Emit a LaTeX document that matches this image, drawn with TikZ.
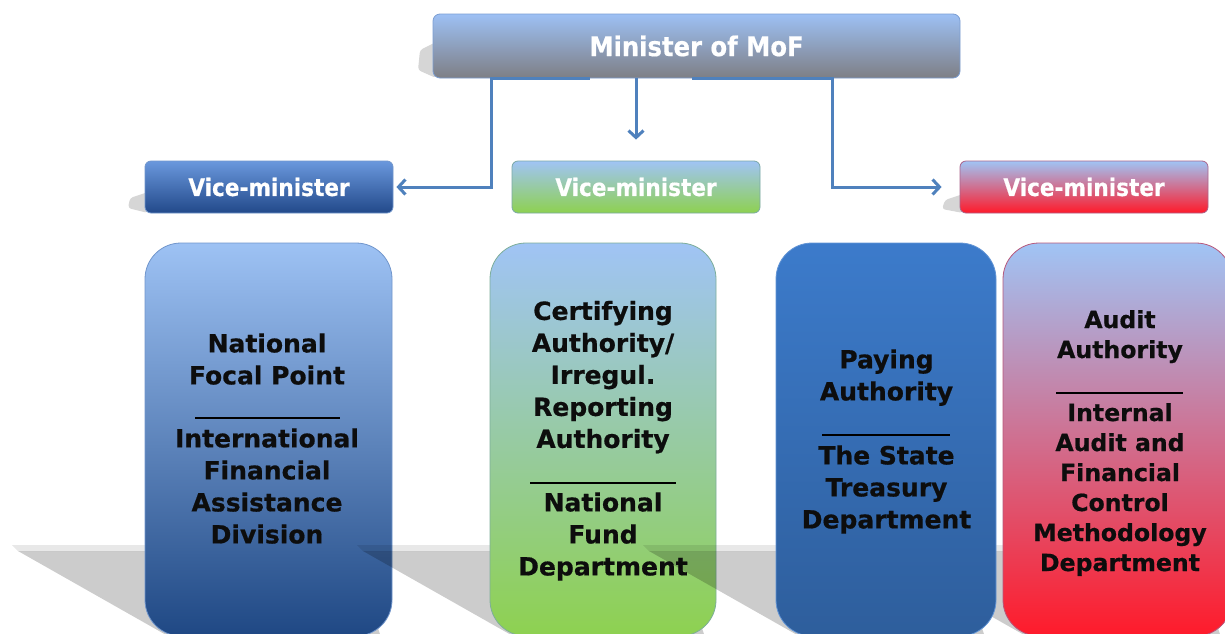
\documentclass[tikz,border=0pt]{standalone}
\usepackage{fontspec}
\setmainfont{DejaVu Sans}[BoldFeatures={FakeBold=0.6}]
\newfontfamily\headfont{DejaVu Sans Condensed}[BoldFeatures={FakeBold=0.5}]
\usetikzlibrary{arrows.meta,calc}

% palette
\definecolor{mofTop}{HTML}{9DC0F4}
\definecolor{mofBot}{HTML}{7E7F85}
\definecolor{mofLine}{HTML}{7C9ED2}
\definecolor{blueTop}{HTML}{6A98DD}
\definecolor{blueBot}{HTML}{22498A}
\definecolor{paleTop}{HTML}{A0C4F5}
\definecolor{greenBot}{HTML}{8ED150}
\definecolor{redBot}{HTML}{FF1A2A}
\definecolor{pinkMid}{HTML}{DCA8D2}
\definecolor{navyBot}{HTML}{1F4884}
\definecolor{treasTop}{HTML}{3C7BCB}
\definecolor{treasBot}{HTML}{2E5E9C}
\definecolor{edgeBlue}{HTML}{7196CC}
\definecolor{connBlue}{HTML}{4F81BD}

\newcommand\cellstack[1]{\begin{tabular}{@{}c@{}}#1\end{tabular}}
% floor shadow of a unit box with left edge #1 and right edge #2
\newcommand\floorshade[2]{%
  \fill[black, opacity=0.09] ({#1-133},545) -- ({#2-40},545) -- ({#2-40},551) -- ({#1-127},551) -- cycle;
  \fill[black, opacity=0.2] ({#1-127},551) -- ({#2-40},551) -- ({#2-10},640) -- ({#1+30},640) -- cycle;}

\begin{document}
\begin{tikzpicture}[x=1pt,y=-1pt,
  topbox/.style={rectangle, rounded corners=7pt, minimum width=527pt,
    minimum height=64pt, inner sep=0pt, draw=mofLine, line width=0.8pt,
    top color=mofTop, bottom color=mofBot, text=white,
    font=\headfont\bfseries\fontsize{27}{30}\selectfont},
  vicebox/.style={rectangle, rounded corners=6pt, minimum width=248pt,
    minimum height=52pt, inner sep=0pt, draw=edgeBlue, line width=0.8pt,
    text=white, font=\headfont\bfseries\fontsize{24}{28}\selectfont},
  unitbox/.style={rectangle, rounded corners=36pt, minimum height=393pt,
    inner sep=0pt, draw=edgeBlue, line width=0.8pt},
  unittext/.style={inner sep=0pt, text=black!95,
    font=\bfseries\fontsize{25}{32}\selectfont},
  smalltext/.style={unittext, font=\bfseries\fontsize{23.6}{30}\selectfont},
  rulesep/.style={line width=1.7pt, black},
  conn/.style={draw=connBlue, line width=3pt},
  tip/.style={-{Straight Barb[length=7pt,width=15pt]}},
  softshadow/.style={fill=black, opacity=0.16, rounded corners=3pt}
]
\fill[white] (0,0) rectangle (1225,633);
\useasboundingbox (0,0) rectangle (1225,633);

% ---- top level ----
\fill[softshadow] (436,42) -- (420,50) -- (418,70) -- (436,78) -- cycle;
\node[topbox] (mof) at (696.5,46) {Minister of MoF};

% ---- vice-ministers ----
\fill[softshadow] (148,192) -- (130,198) -- (128,208) -- (148,213) -- cycle;
\node[vicebox, top color=blueTop, bottom color=blueBot] (vm1) at (269,187) {Vice-minister};
\node[vicebox, top color=paleTop, bottom color=greenBot, draw=edgeBlue!70!greenBot] (vm2) at (636,187) {Vice-minister};
\fill[softshadow] (963,194) -- (945,200) -- (942,209) -- (963,213) -- cycle;
\node[vicebox, top color=paleTop, middle color=pinkMid!80!paleTop, bottom color=redBot, draw=edgeBlue!60!redBot] (vm3) at (1084,187) {Vice-minister};

% ---- connectors ----
\draw[conn, tip] ($(mof.south west)+(157,0)$) -- ($(mof.south west)+(59,0)$) |- ($(vm1.east)+(3,0)$);
\draw[conn, tip] (mof.south -| vm2.north) -- ($(vm2.north)+(0,-21)$);
\draw[conn, tip] ($(mof.south)+(-5,0)$) -- ($(mof.south)+(136,0)$) |- ($(vm3.west)+(-18,0)$);

% ---- units: floor shadow, box, texts ----
% National Focal Point
\floorshade{145}{392}
\node[unitbox, minimum width=247pt, top color=paleTop!95!blueTop, bottom color=navyBot] (u1) at (268.5,439.5) {};
\node[unittext] (u1a) at (267,362) {\cellstack{National\\Focal Point}};
\draw[rulesep] (195,418) -- (340,418);
\node[unittext] (u1b) at (267,489) {\cellstack{International\\Financial\\Assistance\\Division}};

% Certifying Authority
\floorshade{490}{716}
\node[unitbox, minimum width=226pt, top color=paleTop, bottom color=greenBot, draw=edgeBlue!60!greenBot] (u2) at (603,439.5) {};
\node[unittext] (u2a) at (603,377.5) {\cellstack{Certifying\\Authority/\\Irregul.\\Reporting\\Authority}};
\draw[rulesep] (530,483) -- (676,483);
\node[unittext] (u2b) at (603,537) {\cellstack{National\\Fund\\Department}};

% Paying and Audit Authority: both floor shadows lie behind both boxes
\floorshade{776}{996}
\floorshade{1003}{1232}
\node[unitbox, minimum width=220pt, top color=treasTop, bottom color=treasBot, draw=treasTop!80!white] (u3) at (886,439.5) {};
\node[unittext] (u3a) at (886.5,378) {\cellstack{Paying\\Authority}};
\draw[rulesep] (822,435) -- (950,435);
\node[unittext] (u3b) at (886.5,490) {\cellstack{The State\\Treasury\\Department}};

\node[unitbox, minimum width=229pt, top color=paleTop, middle color=pinkMid, bottom color=redBot, draw=edgeBlue!50!redBot] (u4) at (1117.5,439.5) {};
\node[smalltext] (u4a) at (1120,337) {\cellstack{Audit\\Authority}};
\draw[rulesep] (1056,393) -- (1183,393);
\node[smalltext] (u4b) at (1120,490) {\cellstack{Internal\\Audit and\\Financial\\Control\\Methodology\\Department}};
\end{tikzpicture}
\end{document}
